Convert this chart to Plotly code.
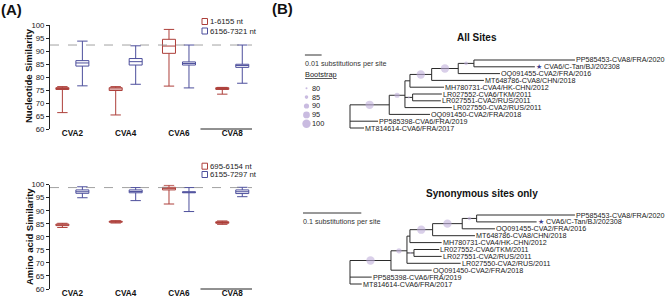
import plotly.graph_objects as go

W, H = 666, 301
FONT = "Liberation Sans, Arial, sans-serif"

# ---------------- (A) box-plot data ----------------
categories = ["CVA2", "CVA4", "CVA6", "CVA8"]
y_ticks = [60, 65, 70, 75, 80, 85, 90, 95, 100]

nt_names = ["1-6155 nt", "6156-7321 nt"]
nt_red_lower = [66.3, 65.4, 76.5, 73.4]
nt_red_q1 = [75.2, 74.8, 89.1, 75.2]
nt_red_median = [75.6, 75.4, 91.9, 75.6]
nt_red_q3 = [75.9, 75.9, 94.5, 75.9]
nt_red_upper = [76.3, 76.3, 98.3, 76.0]
nt_blue_lower = [76.6, 77.2, 75.8, 77.6]
nt_blue_q1 = [84.2, 84.6, 84.6, 83.7]
nt_blue_median = [85.4, 85.9, 85.2, 84.4]
nt_blue_q3 = [86.3, 87.1, 85.8, 84.9]
nt_blue_upper = [93.8, 92.0, 92.3, 92.3]
nt_reference = 92.3

aa_names = ["695-6154 nt", "6155-7297 nt"]
aa_red_lower = [83.6, 85.3, 92.6, 84.8]
aa_red_q1 = [84.3, 85.6, 98.0, 85.2]
aa_red_median = [84.6, 85.8, 98.5, 85.5]
aa_red_q3 = [84.9, 86.0, 99.0, 85.8]
aa_red_upper = [85.2, 86.2, 99.8, 86.1]
aa_blue_lower = [95.0, 93.9, 89.7, 95.4]
aa_blue_q1 = [96.7, 96.9, 96.9, 96.6]
aa_blue_median = [97.3, 97.4, 97.1, 97.3]
aa_blue_q3 = [98.0, 98.0, 97.3, 98.0]
aa_blue_upper = [99.2, 98.9, 98.9, 99.0]
aa_reference = 98.9

# ---------------- (B) tree data ----------------
leaf_order = ["PP585453-CVA8/FRA/2020", "CVA6/C-Tan/BJ/202308", "OQ091455-CVA2/FRA/2016",
              "MT648786-CVA8/CHN/2018", "MH780731-CVA4/HK-CHN/2012", "LR027552-CVA6/TKM/2011",
              "LR027551-CVA2/RUS/2011", "LR027550-CVA2/RUS/2011", "OQ091450-CVA2/FRA/2018",
              "PP585398-CVA6/FRA/2019", "MT814614-CVA6/FRA/2017"]
highlight_leaf = "CVA6/C-Tan/BJ/202308"
edge_child = ["n1", "MT814614-CVA6/FRA/2017", "PP585398-CVA6/FRA/2019", "OQ091450-CVA2/FRA/2018",
              "n2", "LR027550-CVA2/RUS/2011", "n3", "LR027552-CVA6/TKM/2011", "LR027551-CVA2/RUS/2011",
              "n4", "MH780731-CVA4/HK-CHN/2012", "n5", "MT648786-CVA8/CHN/2018", "n6",
              "OQ091455-CVA2/FRA/2016", "n7", "PP585453-CVA8/FRA/2020", "CVA6/C-Tan/BJ/202308"]
edge_parent = ["root", "root", "root", "n1", "n1", "n2", "n2", "n3", "n3",
               "n2", "n4", "n4", "n5", "n5", "n6", "n6", "n7", "n7"]
branch_all = [0.0235, 0.0084, 0.0168, 0.0244, 0.0094, 0.0281, 0.0046, 0.0175, 0.0169,
              0.0030, 0.0204, 0.0130, 0.0313, 0.0159, 0.0250, 0.0094, 0.0605, 0.0365]
branch_syn = [0.0703, 0.0201, 0.0372, 0.0698, 0.0274, 0.0921, 0.0120, 0.0434, 0.0475,
              0.0051, 0.0544, 0.0389, 0.0726, 0.0508, 0.0561, 0.0247, 0.1686, 0.1029]
bootstrap_nodes = ["n1", "n2", "n3", "n5", "n6", "n7"]
bootstrap_all = [100, 90, 80, 100, 100, 85]
bootstrap_syn = [100, 90, 80, 100, 100, 85]
bootstrap_legend = [80, 85, 90, 95, 100]
scale_all = 0.01
scale_syn = 0.1

RED = "#ad3f3a"
BLUE = "#4d4f9c"
BS_COLOR = "rgba(192,175,218,0.85)"


def px(x):
    return x / W


def py(y):
    return 1 - y / H


def bs_size(v):
    return 2 + (v - 80) * 0.32


fig = go.Figure()

# ---------- box plots ----------
def add_boxes(xa, ya, names, red, blue):
    for name, stats, col, og in [(names[0], red, RED, "a"), (names[1], blue, BLUE, "b")]:
        lo, q1, md, q3, hi = stats
        fig.add_trace(go.Box(
            x=categories, lowerfence=lo, q1=q1, median=md, q3=q3, upperfence=hi,
            name=name, offsetgroup=og, xaxis=xa, yaxis=ya,
            line=dict(color=col, width=1), fillcolor="white", whiskerwidth=0.8,
            hoverinfo="skip", showlegend=False))

add_boxes("x", "y", nt_names,
          (nt_red_lower, nt_red_q1, nt_red_median, nt_red_q3, nt_red_upper),
          (nt_blue_lower, nt_blue_q1, nt_blue_median, nt_blue_q3, nt_blue_upper))
add_boxes("x2", "y2", aa_names,
          (aa_red_lower, aa_red_q1, aa_red_median, aa_red_q3, aa_red_upper),
          (aa_blue_lower, aa_blue_q1, aa_blue_median, aa_blue_q3, aa_blue_upper))

# ---------- trees ----------
def layout_tree(lengths):
    parent = dict(zip(edge_child, edge_parent))
    blen = dict(zip(edge_child, lengths))
    children = {}
    for c, p in zip(edge_child, edge_parent):
        children.setdefault(p, []).append(c)
    xs = {"root": 0.0}

    def setx(n):
        for c in children.get(n, []):
            xs[c] = xs[n] + blen[c]
            setx(c)
    setx("root")
    ys = {leaf: i for i, leaf in enumerate(leaf_order)}

    def sety(n):
        if n in ys:
            return ys[n]
        vals = [sety(c) for c in children[n]]
        ys[n] = sum(vals) / len(vals)
        return ys[n]
    sety("root")
    return xs, ys, parent, children


annotations = []
shapes = []


def add_tree(lengths, boots, xa, ya):
    xs, ys, parent, children = layout_tree(lengths)
    lx, ly = [], []
    for c, p in zip(edge_child, edge_parent):
        lx += [xs[p], xs[c], None]
        ly += [ys[c], ys[c], None]
    for n, ch in children.items():
        cy = [ys[c] for c in ch]
        lx += [xs[n], xs[n], None]
        ly += [min(cy), max(cy), None]
    fig.add_trace(go.Scatter(x=lx, y=ly, mode="lines", xaxis=xa, yaxis=ya,
                             line=dict(color="#2b2b2b", width=1), hoverinfo="skip",
                             showlegend=False))
    bx = [(xs[n] + xs[parent[n]]) / 2 for n in bootstrap_nodes]
    by = [ys[n] for n in bootstrap_nodes]
    fig.add_trace(go.Scatter(x=bx, y=by, mode="markers", xaxis=xa, yaxis=ya,
                             marker=dict(color=BS_COLOR, size=[bs_size(v) for v in boots],
                                         line=dict(width=0)),
                             hoverinfo="skip", showlegend=False))
    for leaf in leaf_order:
        if leaf == highlight_leaf:
            txt = "<span style='color:#3d418f'>★</span> " + leaf
        else:
            txt = leaf
        annotations.append(dict(x=xs[leaf], y=ys[leaf], xref=xa, yref=ya, text=txt,
                                showarrow=False, xanchor="left", yanchor="middle",
                                xshift=0, borderpad=0,
                                font=dict(family=FONT, size=7.2, color="#1a1a1a")))


add_tree(branch_all, bootstrap_all, "x3", "y3")
add_tree(branch_syn, bootstrap_syn, "x4", "y4")


def note(x, y, text, size, xanchor="center", color="#111", angle=0):
    annotations.append(dict(x=px(x), y=py(y), xref="paper", yref="paper", showarrow=False,
                            text=text, xanchor=xanchor, yanchor="middle", textangle=angle,
                            borderpad=0, font=dict(family=FONT, size=size, color=color)))


# scale bars
shapes.append(dict(type="line", xref="x3", yref="paper", x0=-0.027, x1=-0.027 + scale_all,
                   y0=py(55), y1=py(55), line=dict(color="#333", width=1)))
shapes.append(dict(type="line", xref="x4", yref="paper", x0=-0.0806, x1=-0.0806 + scale_syn,
                   y0=py(213), y1=py(213), line=dict(color="#333", width=1)))
note(304, 63, f"{scale_all} substitutions per site", 7.2, "left", "#333")
note(302, 221.5, f"{scale_syn} substitutions per site", 7.2, "left", "#333")

# bootstrap legend
note(304, 74.5, "<u>Bootstrap</u>", 7.4, "left", "#222")
for i, v in enumerate(bootstrap_legend):
    yc = 88.2 + i * 8.9
    r = bs_size(v) / 2
    shapes.append(dict(type="circle", xref="paper", yref="paper",
                       x0=px(306.5 - r), x1=px(306.5 + r), y0=py(yc + r), y1=py(yc - r),
                       fillcolor=BS_COLOR, line=dict(width=0)))
    note(310.5, yc, str(v), 7.4, "left", "#222")

# tree titles
note(477, 38, "<b>All Sites</b>", 10)
note(482, 193, "<b>Synonymous sites only</b>", 10)

# panel letters
note(11, 10, "<b>(A)</b>", 15)
note(282, 9, "<b>(B)</b>", 15)

# y titles
note(29, 75, "<b>Nucleotide Similarity</b>", 9.5, angle=-90)
note(29, 236, "<b>Amino acid Similarity</b>", 9.5, angle=-90)

# box legends
for names, y1, y2 in [(nt_names, 21.5, 31), (aa_names, 166.2, 174.5)]:
    for name, col, yc in [(names[0], RED, y1), (names[1], BLUE, y2)]:
        shapes.append(dict(type="rect", xref="paper", yref="paper",
                           x0=px(202), x1=px(207.5), y0=py(yc + 3), y1=py(yc - 3),
                           line=dict(color=col, width=1), fillcolor="white"))
        note(209, yc, name, 7.8, "left", "#222")

# reference dashed lines & partial x-axis lines
for xa, ya, ref in [("x", "y", nt_reference), ("x2", "y2", aa_reference)]:
    shapes.append(dict(type="line", xref=f"{xa} domain", yref=ya, x0=0, x1=1, y0=ref, y1=ref,
                       line=dict(color="#8a8a8a", width=0.8, dash="dash")))
    shapes.append(dict(type="line", xref=f"{xa} domain", yref=f"{ya} domain", x0=0.745, x1=1,
                       y0=0, y1=0, line=dict(color="#222", width=1)))

xcommon = dict(type="category", range=[-0.42, 3.37], showline=False, ticks="", showgrid=False,
               zeroline=False, tickfont=dict(family=FONT, size=8.2, color="#111", weight="bold"),
               ticklabelstandoff=-2)
ycommon = dict(range=[60, 100], tickvals=y_ticks, showline=True, linecolor="#222", linewidth=1,
               ticks="outside", ticklen=3, tickwidth=1, tickcolor="#222", showgrid=False,
               zeroline=False, tickfont=dict(family=FONT, size=7.8, color="#222"))
treex = dict(showline=False, showgrid=False, zeroline=False, showticklabels=False, ticks="")
treey = dict(showline=False, showgrid=False, zeroline=False, showticklabels=False, ticks="")

fig.update_layout(
    width=W, height=H, autosize=False,
    margin=dict(l=0, r=0, t=0, b=0, autoexpand=False),
    paper_bgcolor="white", plot_bgcolor="white",
    showlegend=False, boxmode="group", boxgap=0.25, boxgroupgap=0.35,
    font=dict(family=FONT),
    xaxis=dict(domain=[px(50), px(252)], anchor="y", **xcommon),
    yaxis=dict(domain=[py(129), py(25)], anchor="x", **ycommon),
    xaxis2=dict(domain=[px(50), px(252)], anchor="y2", **xcommon),
    yaxis2=dict(domain=[py(289), py(184.7)], anchor="x2", **ycommon),
    xaxis3=dict(domain=[px(300), 1.0], anchor="y3",
                range=[(300 - 350) / 1670, (666 - 350) / 1670], **treex),
    yaxis3=dict(domain=[py(135), py(50)], anchor="x3",
                range=[(135 - 60) / 6.8, (50 - 60) / 6.8], **treey),
    xaxis4=dict(domain=[px(300), 1.0], anchor="y4",
                range=[(300 - 350) / 583, (666 - 350) / 583], **treex),
    yaxis4=dict(domain=[py(295), py(205)], anchor="x4",
                range=[(295 - 215) / 6.9, (205 - 215) / 6.9], **treey),
    annotations=annotations, shapes=shapes,
)

fig.write_html("out.html", config={"displayModeBar": False},
               post_script="document.body.style.margin='0';document.body.style.overflow='hidden';")
